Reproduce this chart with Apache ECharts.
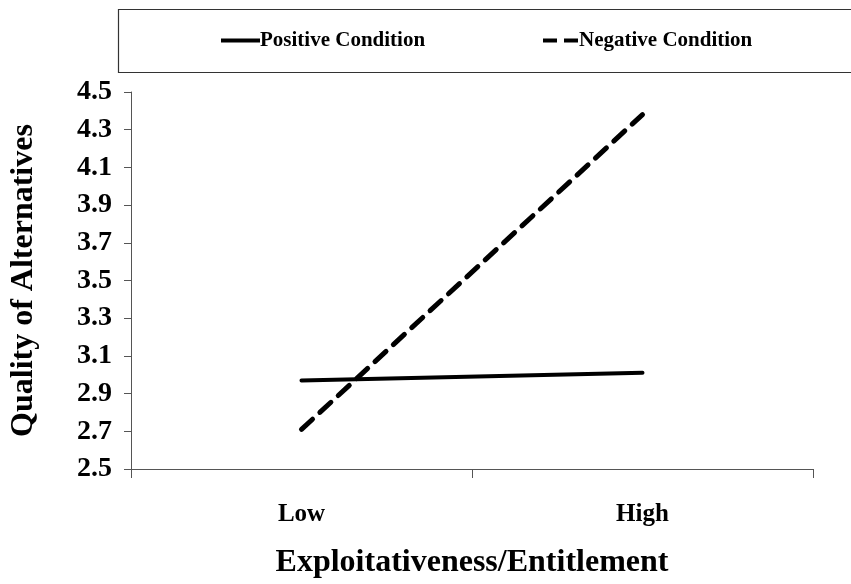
<!DOCTYPE html>
<html>
<head>
<meta charset="utf-8">
<script src="https://cdn.jsdelivr.net/npm/echarts@6/dist/echarts.min.js"></script>
<style>html,body{margin:0;padding:0;background:#fff}#c{width:851px;height:584px}</style>
</head>
<body>
<div id="c"></div>
<script>
var categories = ['Low', 'High'];
var positiveCondition = [2.97, 3.01];
var negativeCondition = [2.71, 4.38];
var yMin = 2.5, yMax = 4.5, yStep = 0.2;

var FONT = '"Liberation Serif", "Times New Roman", serif';
var legendText = { fontFamily: FONT, fontWeight: 'bold', fontSize: 21, color: '#000', padding: [0, 0, 0, -5] };
var chart = echarts.init(document.getElementById('c'));
chart.setOption({
  animation: false,
  backgroundColor: '#fff',
  graphic: [{
    type: 'rect', left: 116, top: 7, silent: true,
    shape: { width: 760, height: 63 },
    style: { fill: 'none', stroke: '#333', lineWidth: 1.2 }
  }],
  legend: [{
    data: ['Positive Condition'], left: 221, top: 30, padding: 0,
    icon: 'rect', itemWidth: 39, itemHeight: 4, itemGap: 0,
    itemStyle: { color: '#000' },
    textStyle: legendText
  }, {
    data: ['Negative Condition'], left: 543, top: 30, padding: 0,
    icon: 'path://M0,0L14,0L14,4L0,4Z M21,0L35,0L35,4L21,4Z', itemWidth: 37, itemHeight: 4, itemGap: 0,
    itemStyle: { color: '#000' },
    textStyle: legendText
  }],
  grid: { left: 128, right: 38, top: 92, bottom: 112, containLabel: false },
  xAxis: {
    type: 'category', data: categories, boundaryGap: true,
    name: 'Exploitativeness/Entitlement', nameLocation: 'middle', nameGap: 78,
    nameTextStyle: { fontFamily: FONT, fontWeight: 'bold', fontSize: 32, color: '#000' },
    axisLine: { lineStyle: { color: '#555', width: 1 } },
    axisTick: { show: true, length: 9, inside: false, lineStyle: { color: '#555' } },
    axisLabel: { fontFamily: FONT, fontWeight: 'bold', fontSize: 25, color: '#000', margin: 33 }
  },
  yAxis: {
    type: 'value', min: yMin, max: yMax, interval: yStep,
    name: 'Quality of Alternatives', nameLocation: 'middle', nameGap: 91, nameRotate: 90,
    nameTextStyle: { fontFamily: FONT, fontWeight: 'bold', fontSize: 32, color: '#000' },
    axisLine: { show: true, lineStyle: { color: '#555', width: 1 } },
    axisTick: { show: true, length: 7, inside: false, lineStyle: { color: '#555' } },
    splitLine: { show: false },
    axisLabel: {
      fontFamily: FONT, fontWeight: 'bold', fontSize: 28, color: '#000', margin: 19,
      formatter: function (v) { return v.toFixed(1); }
    }
  },
  series: [{
    name: 'Positive Condition', type: 'line', data: positiveCondition,
    symbol: 'none', color: '#000',
    lineStyle: { color: '#000', width: 4, cap: 'round' }
  }, {
    name: 'Negative Condition', type: 'line', data: negativeCondition,
    symbol: 'none', color: '#000',
    lineStyle: { color: '#000', width: 5, type: [15, 10], cap: 'round' }
  }]
});
</script>
</body>
</html>
